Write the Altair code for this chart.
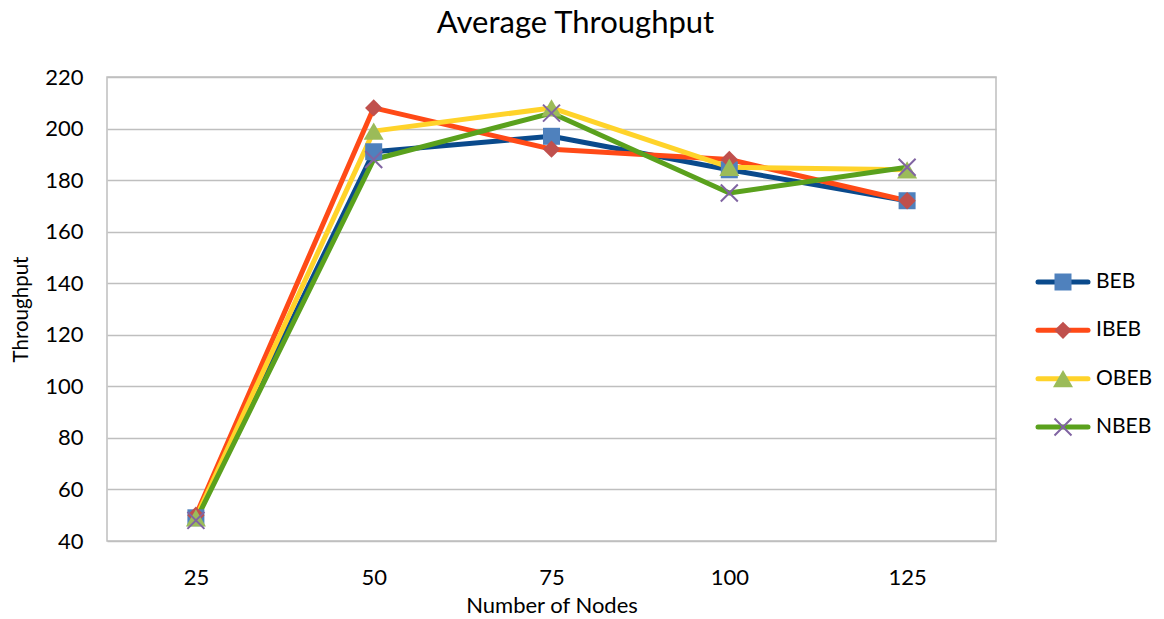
import altair as alt
import pandas as pd

# Average throughput per backoff scheme, by number of nodes
nodes = [25, 50, 75, 100, 125]
series_names = ["BEB", "IBEB", "OBEB", "NBEB"]
beb = [49, 191, 197, 184, 172]
ibeb = [50, 208, 192, 188, 172]
obeb = [49, 199, 208, 185, 184]
nbeb = [48, 188, 206, 175, 185]

line_colors = ["#0A4A8C", "#FF4A17", "#FFD32A", "#5AA11D"]
marker_colors = ["#4F81BD", "#C0504D", "#9BBB59", "#8064A2"]
X_PATH = "M-1,-1L1,1M-1,1L1,-1"
marker_specs = [
    ("BEB", "square", 289, True),
    ("IBEB", "diamond", 300, True),
    ("OBEB", "triangle-up", 400, True),
    ("NBEB", X_PATH, 289, False),
]

rows = []
for name, vals in zip(series_names, [beb, ibeb, obeb, nbeb]):
    for n, v in zip(nodes, vals):
        rows.append({"nodes": str(n), "series": name, "throughput": v})
df = pd.DataFrame(rows)
legend_df = pd.DataFrame({"series": series_names})

FONT = "Lato"
node_order = [str(n) for n in nodes]

x_enc = alt.X(
    "nodes:O",
    sort=node_order,
    scale=alt.Scale(type="point", padding=0.5),
    axis=alt.Axis(title="Number of Nodes", labelAngle=0, ticks=False, domain=False,
                  labelPadding=26, titlePadding=7, titleFontSize=22),
)
y_enc = alt.Y(
    "throughput:Q",
    scale=alt.Scale(domain=[40, 220], nice=False, zero=False),
    axis=alt.Axis(title="Throughput", values=list(range(40, 221, 20)), ticks=False,
                  domain=False, labelPadding=24, titlePadding=13, titleFontSize=20.5,
                  gridColor="#BFBFBF", gridWidth=1.3),
)
line_color = alt.Color("series:N", scale=alt.Scale(domain=series_names, range=line_colors), legend=None)

lines = alt.Chart(df).mark_line(strokeWidth=5, strokeCap="round", strokeJoin="round").encode(
    x=x_enc, y=y_enc, color=line_color, detail="series:N"
)

marker_layers = []
for (name, shape, size, filled), col in zip(marker_specs, marker_colors):
    marker_layers.append(
        alt.Chart(df).transform_filter(alt.datum.series == name).mark_point(
            shape=shape, filled=filled, size=size, color=col, opacity=1,
            strokeWidth=0 if filled else 2,
        ).encode(x=x_enc, y=y_enc)
    )

plot = alt.layer(lines, *marker_layers)

# Legend to the right of the plot: a line segment, the series marker and its name
leg_y = alt.Y("series:N", sort=series_names,
              scale=alt.Scale(type="point", domain=series_names, range=[205, 350], padding=0),
              axis=None)
leg_lines = alt.Chart(legend_df).mark_rule(strokeWidth=5, strokeCap="round").encode(
    x=alt.value(931), x2=alt.value(981), y=leg_y, color=line_color
)
leg_marks = []
for (name, shape, size, filled), col in zip(marker_specs, marker_colors):
    leg_marks.append(
        alt.Chart(legend_df).transform_filter(alt.datum.series == name).mark_point(
            shape=shape, filled=filled, size=size, color=col, opacity=1,
            strokeWidth=0 if filled else 2,
        ).encode(x=alt.value(956), y=leg_y)
    )
leg_text = alt.Chart(legend_df).mark_text(
    align="left", baseline="middle", font=FONT, fontSize=21, color="black"
).encode(x=alt.value(989), y=leg_y, text="series:N")

legend = alt.layer(leg_lines, *leg_marks, leg_text)

chart = alt.layer(plot, legend).resolve_scale(y="independent").properties(
    width=889,
    height=464,
    autosize=alt.AutoSizeParams(type="none"),
    padding={"left": 107, "top": 77, "right": 168, "bottom": 78},
    title=alt.TitleParams("Average Throughput", font=FONT, fontSize=31, fontWeight="normal",
                          color="black", anchor="middle", dx=24, offset=26),
).configure(
    background="white"
).configure_view(
    stroke="#BFBFBF", strokeWidth=1.5
).configure_axis(
    labelFont=FONT, labelFontSize=22, labelColor="black",
    titleFont=FONT, titleFontWeight="normal", titleColor="black",
)

chart.save("out.html", embed_options={"renderer": "svg", "actions": False})
